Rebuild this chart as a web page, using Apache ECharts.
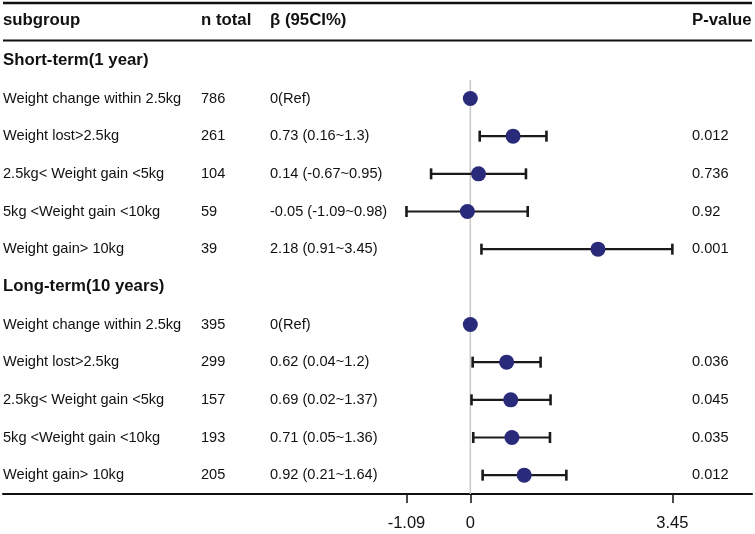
<!DOCTYPE html>
<html style="height: 100%">

<head>
    <meta charset="utf-8">
</head>

<body style="height: 100%; margin: 0; background: #fff">
    <div id="container" style="width: 755px; height: 534px"></div>

    <script src="https://cdn.jsdelivr.net/npm/echarts@6/dist/echarts.min.js"></script>

    <script type="text/javascript">
        // rows, top to bottom (section headings included)
        var rowLabels = [
            'Short-term(1 year)',
            'Weight change within 2.5kg',
            'Weight lost>2.5kg',
            '2.5kg< Weight gain <5kg',
            '5kg <Weight gain <10kg',
            'Weight gain> 10kg',
            'Long-term(10 years)',
            'Weight change within 2.5kg',
            'Weight lost>2.5kg',
            '2.5kg< Weight gain <5kg',
            '5kg <Weight gain <10kg',
            'Weight gain> 10kg'
        ];
        var sectionRows = [0, 6];
        var nTotal = ['', '786', '261', '104', '59', '39', '', '395', '299', '157', '193', '205'];
        var betaText = ['', '0(Ref)', '0.73 (0.16~1.3)', '0.14 (-0.67~0.95)', '-0.05 (-1.09~0.98)', '2.18 (0.91~3.45)',
            '', '0(Ref)', '0.62 (0.04~1.2)', '0.69 (0.02~1.37)', '0.71 (0.05~1.36)', '0.92 (0.21~1.64)'];
        var pValues = ['', '', '0.012', '0.736', '0.92', '0.001', '', '', '0.036', '0.045', '0.035', '0.012'];

        // plotted values (as drawn in the figure)
        var estimate = [null, 0, 0.73, 0.14, -0.05, 2.18, null, 0, 0.62, 0.69, 0.71, 0.92];
        var ciLower = [null, null, 0.16, -0.67, -1.09, 0.19, null, null, 0.04, 0.02, 0.05, 0.21];
        var ciUpper = [null, null, 1.3, 0.95, 0.98, 3.45, null, null, 1.2, 1.37, 1.36, 1.64];

        var xTicks = [-1.09, 0, 3.45];
        var headers = ['subgroup', 'n total', 'β (95CI%)', 'P-value'];

        var FONT = "'Liberation Sans', Arial, sans-serif";
        var colX = [3, 201, 270, 692];

        var myChart = echarts.init(document.getElementById('container'));

        var tableData = rowLabels.map(function (_, i) { return [0, i]; });
        var barData = [];
        var dotData = [];
        for (var i = 0; i < rowLabels.length; i++) {
            if (ciLower[i] !== null) barData.push([ciLower[i], ciUpper[i], i]);
            if (estimate[i] !== null) dotData.push([estimate[i], i]);
        }

        // header texts above the plot
        var headerGraphics = headers.map(function (h, k) {
            return {
                type: 'text', left: colX[k], top: 12,
                style: { text: h, font: 'bold 16.8px ' + FONT, fill: '#111' }
            };
        });

        var option = {
            animation: false,
            grid: { left: 3, right: 3, top: 42, bottom: 40 },
            xAxis: {
                type: 'value',
                min: -7.98,
                max: 4.81,
                splitLine: { show: false },
                axisLine: { show: true, onZero: false, lineStyle: { color: '#111', width: 2.2 } },
                axisTick: {
                    show: true,
                    customValues: xTicks,
                    length: 9,
                    lineStyle: { color: '#111', width: 1.5 }
                },
                axisLabel: {
                    customValues: xTicks,
                    margin: 21,
                    fontSize: 16.5,
                    fontFamily: FONT,
                    color: '#111'
                }
            },
            yAxis: {
                type: 'category',
                inverse: true,
                data: rowLabels,
                show: false
            },
            graphic: [
                { type: 'line', shape: { x1: 3, y1: 3, x2: 752, y2: 3 }, style: { stroke: '#111', lineWidth: 2.4 } },
                { type: 'line', shape: { x1: 3, y1: 40.5, x2: 752, y2: 40.5 }, style: { stroke: '#111', lineWidth: 1.8 } }
            ].concat(headerGraphics),
            series: [
                {
                    // vertical reference line at 0
                    type: 'custom',
                    silent: true,
                    data: [[0, 1]],
                    renderItem: function (params, api) {
                        var p = api.coord([0, 1]);
                        var band = api.size([0, 1])[1];
                        var bottom = api.coord([0, rowLabels.length - 1])[1] + band / 2;
                        return {
                            type: 'line',
                            shape: { x1: p[0], y1: p[1] - band / 2, x2: p[0], y2: bottom },
                            style: { stroke: '#c8c8c8', lineWidth: 1.5 }
                        };
                    },
                    z: 1
                },
                {
                    // table columns
                    type: 'custom',
                    silent: true,
                    data: tableData,
                    renderItem: function (params, api) {
                        var idx = api.value(1);
                        var y = api.coord([0, idx])[1];
                        var bold = sectionRows.indexOf(idx) >= 0;
                        var font = bold ? 'bold 16.8px ' + FONT : '14.6px ' + FONT;
                        var texts = [rowLabels[idx], nTotal[idx], betaText[idx], pValues[idx]];
                        return {
                            type: 'group',
                            children: texts.map(function (t, k) {
                                return {
                                    type: 'text',
                                    x: colX[k], y: y,
                                    style: { text: t, font: font, fill: '#111', verticalAlign: 'middle', align: 'left' }
                                };
                            })
                        };
                    },
                    z: 2
                },
                {
                    // confidence intervals
                    type: 'custom',
                    silent: true,
                    data: barData,
                    encode: { x: [0, 1], y: 2 },
                    renderItem: function (params, api) {
                        var lo = api.coord([api.value(0), api.value(2)]);
                        var hi = api.coord([api.value(1), api.value(2)]);
                        var h = 5.5;
                        var st = { stroke: '#1a1a1a', lineWidth: 2.2 };
                        return {
                            type: 'group',
                            children: [
                                { type: 'line', shape: { x1: lo[0], y1: lo[1], x2: hi[0], y2: hi[1] }, style: st },
                                { type: 'line', shape: { x1: lo[0], y1: lo[1] - h, x2: lo[0], y2: lo[1] + h }, style: { stroke: '#1a1a1a', lineWidth: 2.6 } },
                                { type: 'line', shape: { x1: hi[0], y1: hi[1] - h, x2: hi[0], y2: hi[1] + h }, style: { stroke: '#1a1a1a', lineWidth: 2.6 } }
                            ]
                        };
                    },
                    z: 3
                },
                {
                    type: 'scatter',
                    data: dotData,
                    symbol: 'circle',
                    symbolSize: 15,
                    itemStyle: { color: '#2a2a7a', opacity: 1 },
                    emphasis: { disabled: true },
                    silent: true,
                    z: 4
                }
            ]
        };

        myChart.setOption(option);
    </script>
</body>

</html>
